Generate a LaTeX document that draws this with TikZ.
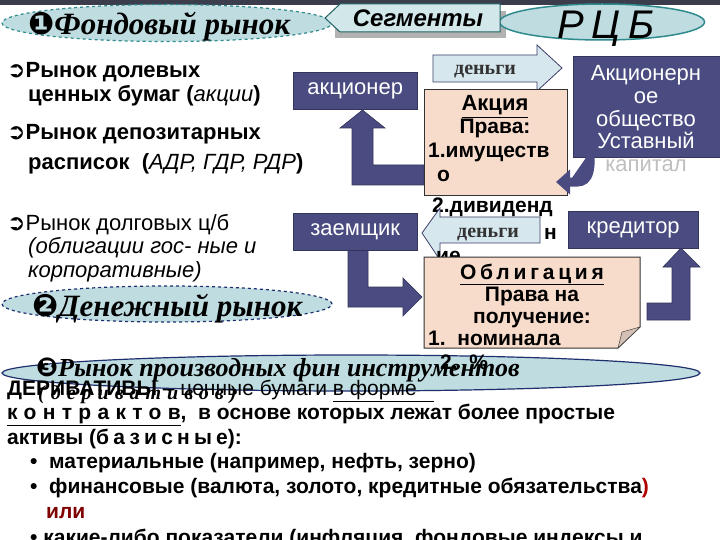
\documentclass[tikz,border=0pt]{standalone}
\usepackage{fontspec}
\setmainfont{Liberation Sans}
\newfontfamily\serifb{Liberation Serif}
\newfontfamily\dingf{DejaVu Sans}
\usetikzlibrary{arrows.meta,shapes.geometric}
\definecolor{slate}{HTML}{4A4B80}
\definecolor{peach}{HTML}{F8DCCB}
\definecolor{lblue}{HTML}{D6E8EE}
\definecolor{teal1}{HTML}{BFDDE1}
\definecolor{tealb}{HTML}{2E8A8C}
\definecolor{navyb}{HTML}{1F2F6E}
\definecolor{band}{HTML}{3C3D4C}
\tikzset{
 dbox/.style={fill=slate,draw=slate!70!black,text=white,font=\fontsize{22}{24}\selectfont},
 bigarrow/.style={fill=slate,draw=slate!70!black,line width=0.6pt},
 moneyarrow/.style={fill=lblue,draw=slate!80!black,line width=0.8pt},
 paper/.style={fill=peach,draw=black!80,line width=1pt},
 lt/.style={anchor=base west,inner sep=0pt,font=\fontsize{22}{24}\selectfont\bfseries},
 bt/.style={anchor=base west,inner sep=0pt,font=\fontsize{21}{23}\selectfont\bfseries},
 ct/.style={anchor=base,inner sep=0pt,font=\fontsize{21}{23}\selectfont\bfseries},
 head/.style={anchor=base west,inner sep=0pt,font=\fontsize{31}{33}\selectfont\serifb\bfseries\itshape}
}
\begin{document}
\begin{tikzpicture}[x=1pt,y=-1pt]
\useasboundingbox (0,0) rectangle (720,540);
\fill[white] (0,0) rectangle (720,540);
\fill[band] (0,0) rectangle (720,5);
% heading ellipses
\node[ellipse,draw=tealb,dashed,line width=1.2pt,fill=teal1,minimum width=330pt,minimum height=37pt] (e1) at (167,23) {};
\node[head] (t1) at (28,35) {{\dingf ❶}Фондовый рынок};
\fill[gray!60] (335,11) rectangle (506,38);
\node[ellipse,draw=tealb,line width=1.5pt,fill=teal1,minimum width=205pt,minimum height=36pt] (e0) at (602,22) {};
\draw[fill=teal1!70!white,draw=tealb!70!black,line width=1pt] (325,18)--(340,4)--(500,4)--(500,32)--(340,32)--cycle;
\node[anchor=base,inner sep=0pt,font=\fontsize{24}{26}\selectfont\bfseries\itshape] (seg) at (418,27) {Сегменты};
\node[anchor=base,inner sep=0pt,font=\fontsize{40}{42}\selectfont\itshape\addfontfeature{LetterSpace=20}] (rcb) at (606,39) {РЦБ};
% left texts
\node[lt] (l1) at (7,78) {{\dingf ➲}Рынок долевых};
\node[lt] (l2) at (28,102) {ценных бумаг ({\mdseries\itshape акции})};
\node[lt] (l3) at (7,140) {{\dingf ➲}Рынок депозитарных};
\node[lt] (l4) at (28,170) {расписок \ ({\mdseries\itshape АДР, ГДР, РДР})};
\node[lt,font=\fontsize{22}{24}\selectfont] (l5) at (7,230) {{\dingf ➲}Рынок долговых ц/б};
\node[lt,font=\fontsize{22}{24}\selectfont\itshape] (l6) at (28,253) {(облигации гос- ные и};
\node[lt,font=\fontsize{22}{24}\selectfont\itshape] (l7) at (28,277) {корпоративные)};
% ellipse 2
\node[ellipse,draw=navyb,dashed,line width=1.2pt,fill=teal1,minimum width=330pt,minimum height=36pt] (e2) at (167,304) {};
\node[head] (t2) at (32,316) {{\dingf ❷}Денежный рынок};
% arrows upper
\draw[bigarrow] (424,165)--(373,165)--(373,128)--(385,128)--(362.5,110)--(340,128)--(352,128)--(352,185)--(424,185)--cycle;
\draw[moneyarrow] (433,55)--(537,55)--(537,45)--(562,68)--(537,91)--(537,82)--(433,82)--cycle;
\node[anchor=base,inner sep=0pt,font=\fontsize{20}{22}\selectfont\serifb\bfseries,text=black!80] (m1) at (485,75) {деньги};
\node[dbox,minimum width=124pt,minimum height=37pt,anchor=north west] (sh) at (293,72) {акционер};
\node[dbox,minimum width=147pt,minimum height=101pt,anchor=north west] (ao) at (573,56) {};
\node[ct,text=white,font=\fontsize{22}{24}\selectfont] (a1) at (646,81) {Акционерн};
\node[ct,text=white,font=\fontsize{22}{24}\selectfont] (a2) at (646,104) {ое};
\node[ct,text=white,font=\fontsize{22}{24}\selectfont] (a3) at (646,127) {общество};
\node[ct,text=white,font=\fontsize{22}{24}\selectfont] (a4) at (646,149) {Уставный};
\node[ct,text=gray!50,font=\fontsize{22}{24}\selectfont] (a5) at (646,172) {капитал};
\node[paper,minimum width=143pt,minimum height=106pt,anchor=north west] (akc) at (424,89) {};
\draw[bigarrow,line width=9pt,draw=slate,-{Triangle[width=24pt,length=14pt]}] (590,152) .. controls (592,186) and (580,182) .. (556,182);
\node[ct,font=\fontsize{22}{24}\selectfont\bfseries] (k1) at (495,111) {\underline{Акция}};
\node[ct] (k2) at (495,134) {Права:};
\node[bt] (k3) at (428,158) {1.имуществ};
\node[bt] (k4) at (437,182) {о};
\node[bt] (k5) at (432,212) {2.дивиденд};
% lower
\draw[bigarrow] (348,250)--(368,250)--(368,287)--(403,287)--(403,278)--(422,297)--(403,316)--(403,307)--(348,307)--cycle;
\draw[bigarrow] (647,303)--(672,303)--(672,267)--(663,267)--(681,248)--(700,267)--(690,267)--(690,320)--(647,320)--cycle;
\draw[moneyarrow] (440,217)--(540,217)--(540,243)--(440,243)--(440,260)--(422,233)--(440,208)--cycle;
\node[anchor=base,inner sep=0pt,font=\fontsize{20}{22}\selectfont\serifb\bfseries,text=black!80] (m2) at (488,237) {деньги};
\node[bt] (k6) at (544,240) {н};
\node[bt] (k7) at (436,262) {ие};
\node[dbox,minimum width=124pt,minimum height=37pt,anchor=north west] (zm) at (293,213) {заемщик};
\node[dbox,minimum width=130pt,minimum height=37pt,anchor=north west] (kr) at (568,211) {кредитор};
\draw[paper] (424,257)--(640,257)--(640,327)--(618,348)--(424,348)--cycle;
\draw[fill=peach!70!gray,draw=black!80] (640,327)--(622,332)--(618,348)--cycle;
\node[ct,font=\fontsize{21}{23}\selectfont\bfseries\addfontfeature{LetterSpace=18}] (o1) at (532,279) {\underline{Облигация}};
\node[ct] (o2) at (532,301) {Права на};
\node[ct] (o3) at (532,323) {получение:};
\node[bt] (o4) at (428,345) {1.\ \ номинала};
% ellipse 3
\node[ellipse,draw=navyb,line width=1.2pt,fill=teal1,minimum width=698pt,minimum height=36pt] (e3) at (351,373) {};
\node[bt] (o5) at (440,369) {2.\ \ \%};
\node[head,font=\fontsize{26}{28}\selectfont\serifb\bfseries\itshape] (t3) at (36,376) {{\dingf ❸}Рынок производных фин инструментов};
\node[bt] (d1) at (7,395) {ДЕРИВАТИВЫ {\mdseries – ценные бумаги \underline{в форме\ \ \ }}};
\node[head,font=\fontsize{20}{22}\selectfont\serifb\bfseries\itshape\addfontfeature{LetterSpace=30}] (t4) at (38,399) {(деривативов)};
\node[bt] (d2) at (7,419) {\underline{\addfontfeature{LetterSpace=30}контрактов}, \ в основе которых лежат более простые};
\node[bt] (d3) at (7,444) {активы ({\addfontfeature{LetterSpace=20}базисные}):};
\node[bt] (d4) at (30,468) {•\ \ материальные (например, нефть, зерно)};
\node[bt] (d5) at (30,493) {•\ \ финансовые (валюта, золото, кредитные обязательства{\color{red!70!black})}};
\node[bt,text=red!50!black] (d6) at (46,518) {или};
\node[bt] (d7) at (30,544) {• какие-либо показатели (инфляция, фондовые индексы и};
\end{tikzpicture}
\end{document}
